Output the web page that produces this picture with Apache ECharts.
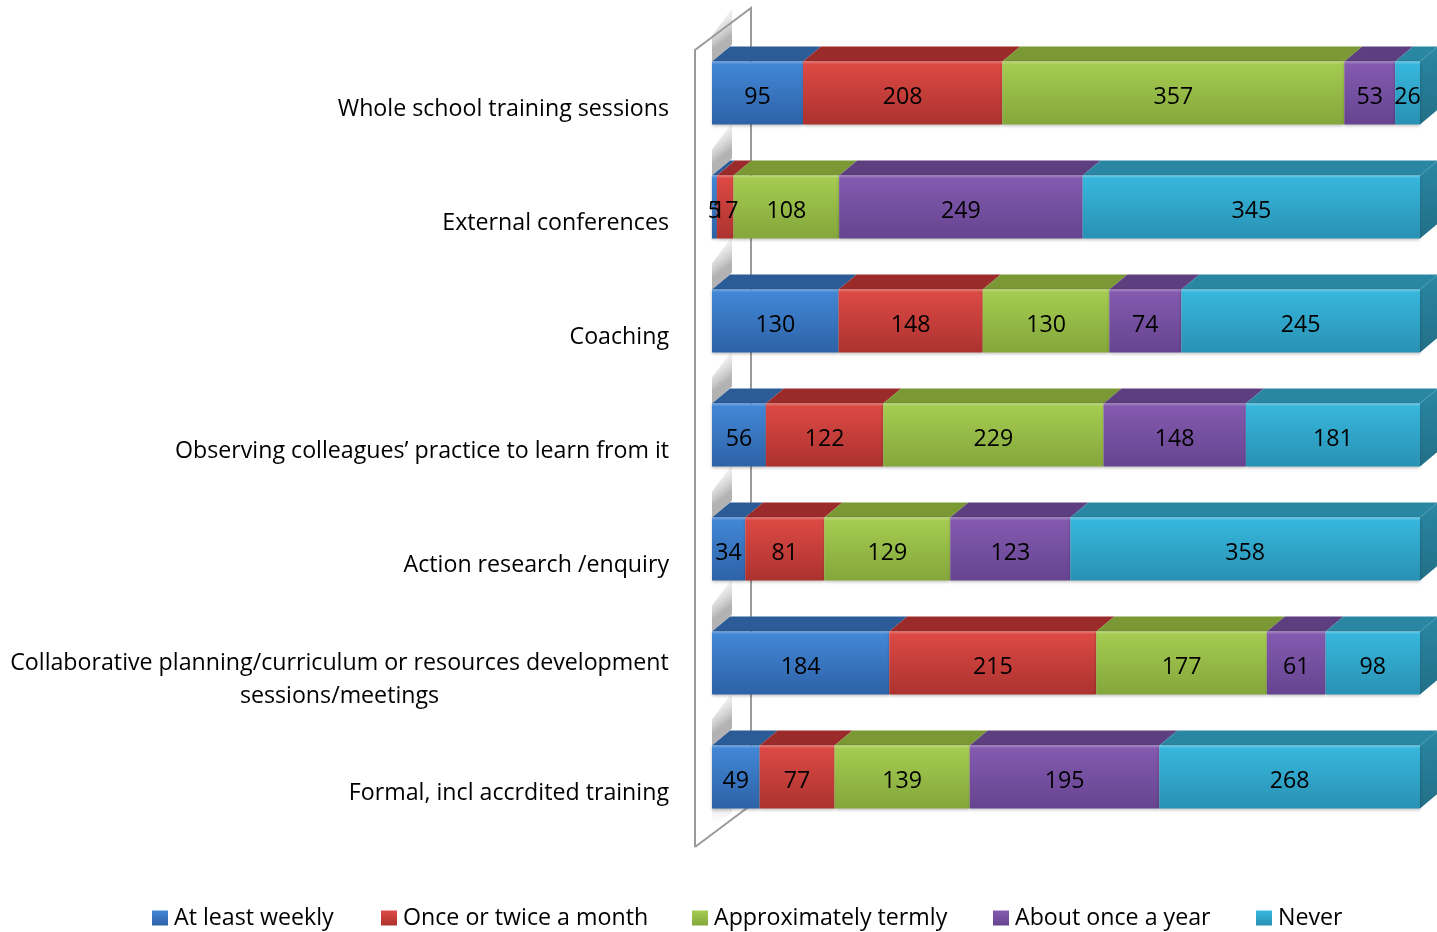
<!DOCTYPE html>
<html><head><meta charset="utf-8">
<script src="https://cdn.jsdelivr.net/npm/echarts@6/dist/echarts.min.js"></script>
<style>html,body{margin:0;padding:0;background:#fff}#c{width:1437px;height:932px}</style>
</head><body><div id="c"></div>
<script>
const categories = [
  'Whole school training sessions',
  'External conferences',
  'Coaching',
  'Observing colleagues’ practice to learn from it',
  'Action research /enquiry',
  'Collaborative planning/curriculum or resources development\nsessions/meetings',
  'Formal, incl accrdited training'
];
const seriesNames = ['At least weekly', 'Once or twice a month', 'Approximately termly', 'About once a year', 'Never'];
const atLeastWeekly    = [95, 5, 130, 56, 34, 184, 49];
const onceOrTwiceMonth = [208, 17, 148, 122, 81, 215, 77];
const approxTermly     = [357, 108, 130, 229, 129, 177, 139];
const aboutOnceYear    = [53, 249, 74, 148, 123, 61, 195];
const never            = [26, 345, 245, 181, 358, 98, 268];
const seriesValues = [atLeastWeekly, onceOrTwiceMonth, approxTermly, aboutOnceYear, never];

const palette = [
  {fTop:'#4388d8', fBot:'#2d62a6', top:'#2c5c97', side:'#234d80'},
  {fTop:'#de4a45', fBot:'#ac322f', top:'#9b2b2a', side:'#822322'},
  {fTop:'#a6cd52', fBot:'#84a63b', top:'#7a9934', side:'#66822b'},
  {fTop:'#855bb0', fBot:'#664490', top:'#5d3f7f', side:'#4d346a'},
  {fTop:'#38b8de', fBot:'#2891b3', top:'#2a87a3', side:'#226f87'}
];
const FONT = '"Open Sans", "Noto Sans", sans-serif';
const FS = 23.2;
const DX = 18, DY = 15;

// totals and cumulative percentages (100% stacked)
const totals = categories.map((_, i) => seriesValues.reduce((s, arr) => s + arr[i], 0));
function seriesData(si) {
  return categories.map((_, ci) => {
    let start = 0;
    for (let k = 0; k < si; k++) start += seriesValues[k][ci];
    const v = seriesValues[si][ci];
    return [ci, start / totals[ci] * 100, (start + v) / totals[ci] * 100, v];
  });
}

function grad(c1, c2) {
  return new echarts.graphic.LinearGradient(0, 0, 0, 1, [{offset: 0, color: c1}, {offset: 1, color: c2}]);
}

function makeRender(si) {
  const p = palette[si];
  return function (params, api) {
    const cat = api.value(0), s = api.value(1), e = api.value(2), raw = api.value(3);
    const a = api.coord([s, cat]), b = api.coord([e, cat]);
    const band = api.size([0, 1])[1];
    const h = band * 0.553;
    const x0 = a[0], x1 = b[0], cy = a[1];
    const top = cy - h / 2, bot = cy + h / 2;
    const children = [];
    children.push({type: 'polygon', shape: {points: [[x0, top], [x0 + DX, top - DY], [x1 + DX, top - DY], [x1, top]]},
      style: {fill: p.top}});
    if (si === seriesValues.length - 1) {
      children.push({type: 'polygon', shape: {points: [[x1, top], [x1 + DX, top - DY], [x1 + DX, bot - DY], [x1, bot]]},
        style: {fill: new echarts.graphic.LinearGradient(0, 0, 0, 1, [{offset: 0, color: p.top}, {offset: 1, color: p.side}])}});
    }
    children.push({type: 'rect', shape: {x: x0, y: top, width: Math.max(x1 - x0, 0.5), height: h},
      style: {fill: grad(p.fTop, p.fBot), shadowColor: 'rgba(0,0,0,0.25)', shadowBlur: 3, shadowOffsetY: 1}});
    children.push({type: 'rect', shape: {x: x0, y: top, width: Math.max(x1 - x0, 0.5), height: 2},
      style: {fill: 'rgba(255,255,255,0.18)'}});
    children.push({type: 'text', z2: 10, style: {text: String(raw), x: (x0 + x1) / 2, y: cy + 4,
      align: 'center', verticalAlign: 'middle', font: FS + 'px ' + FONT, fill: '#000'}});
    return {type: 'group', children: children};
  };
}

function renderWall(params, api) {
  const cs = params.coordSys;
  const cat = api.value(0);
  const c = api.coord([0, cat]);
  const band = api.size([0, 1])[1];
  const h = band * 0.553;
  const top = c[1] - h / 2;
  const x0 = c[0];
  const children = [];
  children.push({type: 'polygon', shape: {points: [[x0, top], [x0 + DX + 2, top - DY - 2], [x0 + DX + 2, top - DY - 38], [x0, top - 26]]},
    style: {fill: new echarts.graphic.LinearGradient(0, 0, 1, 0.5, [{offset: 0, color: 'rgba(255,255,255,0)'}, {offset: 0.5, color: 'rgba(215,215,215,0.5)'}, {offset: 1, color: 'rgba(165,165,165,0.85)'}])}});
  if (cat === 0) {
    const lx = cs.x - 17, rx = cs.x + 39;
    const ty = cs.y + 14, by = cs.y + cs.height + 13;
    children.push({type: 'polyline', shape: {points: [[lx, by], [lx, ty], [rx, ty - 42], [rx, by - 42]]},
      style: {stroke: '#9a9a9a', lineWidth: 2, fill: null}});
    children.push({type: 'line', shape: {x1: lx, y1: by, x2: rx, y2: by - 42}, style: {stroke: '#9a9a9a', lineWidth: 2}});
  }
  if (cat === categories.length - 1) {
    const bot = c[1] + h / 2;
    children.push({type: 'polygon', shape: {points: [[x0, bot], [x0 + DX + 2, bot - DY], [x0 + DX + 2, bot + 4], [x0, bot + 18]]},
      style: {fill: new echarts.graphic.LinearGradient(0, 0, 0, 1, [{offset: 0, color: 'rgba(160,160,160,0.85)'}, {offset: 1, color: 'rgba(255,255,255,0)'}])}});
  }
  return {type: 'group', children: children};
}

const mctx = document.createElement('canvas').getContext('2d');
mctx.font = FS + 'px ' + FONT;
const richBox = {c: {width: 600, align: 'center', lineHeight: 33, fontSize: FS, fontFamily: FONT, color: '#000'}};
function labelFmt(v) {
  if (v.indexOf('\n') < 0) return v;
  const lines = v.split('\n');
  const w = Math.max.apply(null, lines.map(l => mctx.measureText(l).width));
  richBox.c.width = Math.ceil(w);
  return lines.map(l => '{c|' + l + '}').join('\n');
}
labelFmt(categories[5]);

const legendX = [152, 381, 692, 993, 1256];

const series = [{
  name: '_wall', type: 'custom', renderItem: renderWall, z: 1, silent: true,
  data: categories.map((_, i) => [i, 0]), encode: {x: 1, y: 0}
}];
seriesNames.forEach((n, si) => {
  series.push({
    name: n, type: 'custom', z: 2, renderItem: makeRender(si),
    itemStyle: {color: grad(palette[si].fTop, palette[si].fBot)},
    encode: {x: [1, 2], y: 0},
    data: seriesData(si)
  });
});

const chart = echarts.init(document.getElementById('c'), null, {renderer: 'canvas'});
chart.setOption({
  animation: false,
  backgroundColor: '#fff',
  grid: {left: 712, right: 17, top: 36, bottom: 98, containLabel: false},
  xAxis: {type: 'value', min: 0, max: 100, show: false},
  yAxis: {
    type: 'category', data: categories, inverse: true,
    axisLine: {show: false}, axisTick: {show: false}, splitLine: {show: false},
    axisLabel: {
      margin: 43, fontSize: FS, fontFamily: FONT, color: '#000', lineHeight: 33,
      padding: [33, 0, 0, 0], align: 'right',
      formatter: labelFmt, rich: richBox
    }
  },
  legend: seriesNames.map((n, i) => ({
    data: [n], left: legendX[i], top: 903, padding: 0,
    icon: 'rect', itemWidth: 16, itemHeight: 15, selectedMode: false,
    textStyle: {fontSize: FS, fontFamily: FONT, color: '#000', lineHeight: 30, padding: [0, 0, 0, 1]}
  })),
  series: series
});
</script>
</body></html>
